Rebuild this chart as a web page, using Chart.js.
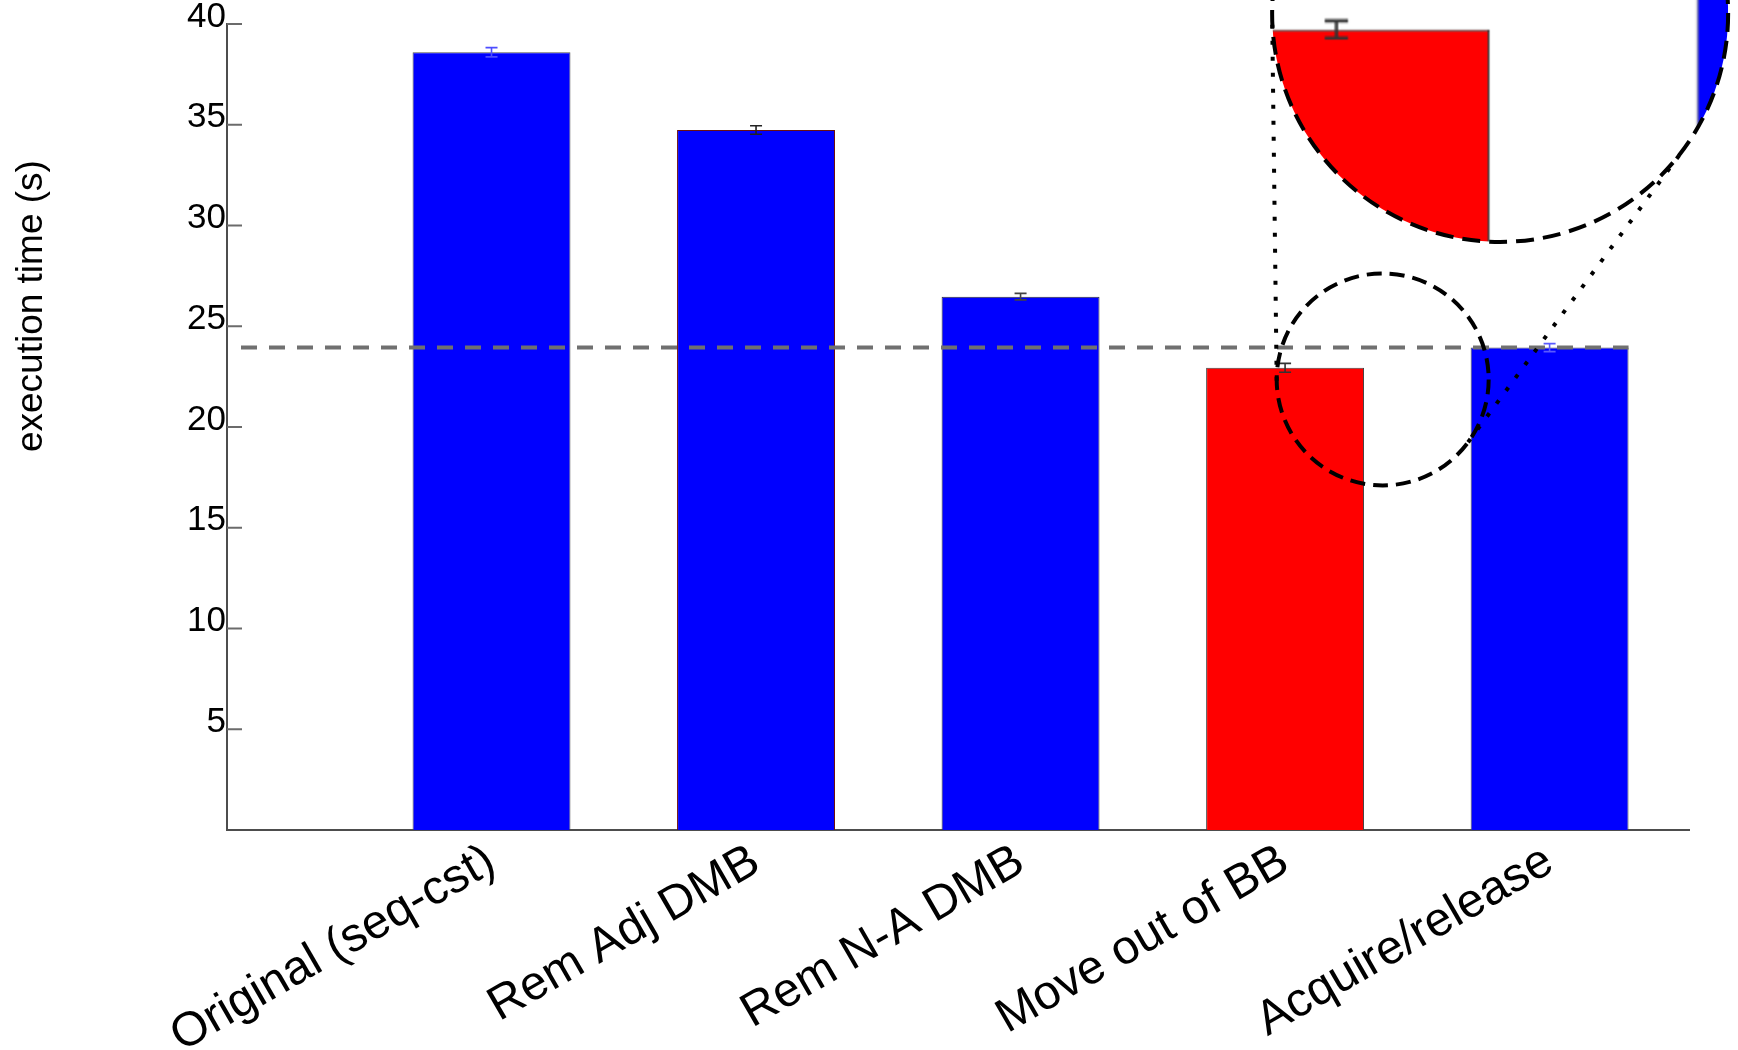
<!DOCTYPE html>
<html>
<head>
<meta charset="utf-8">
<script src="https://cdn.jsdelivr.net/npm/chart.js@4.4.1/dist/chart.umd.min.js"></script>
<style>
  html, body { margin: 0; padding: 0; background: #fff; overflow: hidden; }
  #wrap { position: relative; width: 1738px; height: 1050px; }
</style>
</head>
<body>
<div id="wrap"><canvas id="chart"></canvas></div>
<script>
// Execution time of each barrier-placement variant (seconds)
const categories = ['Original (seq-cst)', 'Rem Adj DMB', 'Rem N-A DMB', 'Move out of BB', 'Acquire/release'];
const times = [38.6, 34.74, 26.47, 22.94, 23.94];
const timeErrors = [0.23, 0.21, 0.16, 0.22, 0.2];
const referenceTime = 23.94;
const yTicks = [5, 10, 15, 20, 25, 30, 35, 40];
const yTitle = 'execution time (s)';

const FONT = "'Liberation Sans', Arial, Helvetica, sans-serif";
const BLUE = '#0000ff';
const RED = '#ff0000';

function outerTangents(c1, r1, c2, r2) {
  const dx = c2.x - c1.x, dy = c2.y - c1.y;
  const d = Math.hypot(dx, dy);
  const base = Math.atan2(dy, dx);
  const a = Math.acos((r2 - r1) / d);
  return [base + a, base - a].map(t => {
    const nx = Math.cos(t), ny = Math.sin(t);
    return [{ x: c1.x - r1 * nx, y: c1.y - r1 * ny }, { x: c2.x - r2 * nx, y: c2.y - r2 * ny }];
  });
}

const decorations = {
  id: 'decorations',
  beforeDraw(chart) {
    const { ctx, width, height } = chart;
    ctx.save();
    ctx.fillStyle = '#fff';
    ctx.fillRect(0, 0, width, height);
    ctx.restore();
  },
  afterDatasetsDraw(chart, args, opts) {
    const { ctx, chartArea, scales: { y } } = chart;
    const bars = chart.getDatasetMeta(0).data;
    ctx.save();
    // error bars
    bars.forEach((bar, i) => {
      const { x } = bar.getProps(['x'], true);
      const top = y.getPixelForValue(times[i] + timeErrors[i]);
      const bot = y.getPixelForValue(times[i] - timeErrors[i]);
      ctx.strokeStyle = opts.errorColors[i];
      ctx.lineWidth = 1.6;
      ctx.beginPath();
      ctx.moveTo(x, top); ctx.lineTo(x, bot);
      ctx.moveTo(x - 6, top); ctx.lineTo(x + 6, top);
      ctx.moveTo(x - 6, bot); ctx.lineTo(x + 6, bot);
      ctx.stroke();
    });
    // dashed reference level
    const last = bars[bars.length - 1].getProps(['x', 'width'], true);
    const ry = y.getPixelForValue(referenceTime);
    ctx.strokeStyle = '#707070';
    ctx.lineWidth = 4;
    ctx.setLineDash([16, 12]);
    ctx.beginPath();
    ctx.moveTo(chartArea.left + 14, ry);
    ctx.lineTo(last.x + last.width / 2, ry);
    ctx.stroke();
    ctx.setLineDash([]);
    // inward tick marks on the value axis
    ctx.strokeStyle = '#6b6b6b';
    ctx.lineWidth = 2;
    y.ticks.forEach(t => {
      const py = y.getPixelForValue(t.value);
      ctx.beginPath();
      ctx.moveTo(chartArea.left, py);
      ctx.lineTo(chartArea.left + 15, py);
      ctx.stroke();
    });
    ctx.restore();
  },
  afterDraw(chart, args, opts) {
    const { ctx, chartArea, scales: { x, y } } = chart;
    const lens = opts.lens;
    const dpr = chart.currentDevicePixelRatio || 1;
    const px = p => ({ x: x.getPixelForValue(p.x), y: y.getPixelForValue(p.y) });
    const src = px(lens.source);
    const view = px(lens.view);
    const target = px(lens.target);
    const R = lens.viewRadius, r = lens.targetRadius;
    const sr = R / lens.zoom;

    // magnified view
    ctx.save();
    ctx.beginPath();
    ctx.arc(view.x, view.y, R, 0, Math.PI * 2);
    ctx.clip();
    ctx.fillStyle = '#fff';
    ctx.fillRect(view.x - R, view.y - R, 2 * R, 2 * R);
    ctx.imageSmoothingEnabled = true;
    ctx.imageSmoothingQuality = 'high';
    ctx.drawImage(chart.canvas,
      (src.x - sr) * dpr, (src.y - sr) * dpr, 2 * sr * dpr, 2 * sr * dpr,
      view.x - R, view.y - R, 2 * R, 2 * R);
    ctx.restore();

    // lens outlines
    ctx.save();
    ctx.strokeStyle = '#000';
    ctx.lineWidth = 4;
    ctx.setLineDash([18, 9]);
    ctx.beginPath();
    ctx.arc(view.x, view.y, R, 0, Math.PI * 2);
    ctx.stroke();
    ctx.setLineDash([15, 8]);
    ctx.beginPath();
    ctx.arc(target.x, target.y, r, 0, Math.PI * 2);
    ctx.stroke();
    // dotted connectors
    ctx.setLineDash([4, 12]);
    ctx.lineWidth = 4;
    outerTangents(target, r, view, R).forEach(([a, b]) => {
      ctx.beginPath();
      ctx.moveTo(a.x, a.y);
      ctx.lineTo(b.x, b.y);
      ctx.stroke();
    });
    ctx.restore();

    // value-axis title
    ctx.save();
    ctx.translate(31.5, chartArea.top + 0.35 * (chartArea.bottom - chartArea.top));
    ctx.rotate(-Math.PI / 2);
    ctx.font = '37px ' + FONT;
    ctx.fillStyle = '#000';
    ctx.textAlign = 'center';
    ctx.textBaseline = 'middle';
    ctx.fillText(yTitle, 0, 0);
    ctx.restore();
  }
};

new Chart(document.getElementById('chart'), {
  type: 'bar',
  data: {
    datasets: [{
      data: times.map((v, i) => ({ x: i + 1, y: v })),
      backgroundColor: [BLUE, BLUE, BLUE, RED, BLUE],
      borderColor: ['#505050', '#6a1010', '#303030', '#404040', '#505050'],
      borderWidth: 1,
      categoryPercentage: 1,
      barPercentage: 0.597
    }]
  },
  options: {
    responsive: true,
    maintainAspectRatio: false,
    animation: false,
    events: [],
    layout: { padding: { top: 24, right: 49, left: 0, bottom: 0 } },
    plugins: {
      legend: { display: false },
      tooltip: { enabled: false },
      decorations: {
        errorColors: ['#4d4dff', '#222222', '#444444', '#333333', '#5a5aff'],
        lens: {
          source: { x: 4.319, y: 23.335 },
          zoom: 1.94,
          view: { x: 4.813, y: 40.5 },
          viewRadius: 228,
          target: { x: 4.369, y: 22.36 },
          targetRadius: 106
        }
      }
    },
    scales: {
      x: {
        type: 'linear',
        min: 0,
        max: 5.527,
        offset: false,
        grid: { display: false, drawTicks: false, offset: false },
        border: { display: true, color: '#4d4d4d', width: 2 },
        afterBuildTicks: s => { s.ticks = categories.map((_, i) => ({ value: i + 1 })); },
        afterFit: s => { s.height = 220; },
        ticks: {
          autoSkip: false,
          minRotation: 30,
          maxRotation: 30,
          padding: 3,
          color: '#000',
          font: { family: FONT, size: 48 },
          callback: v => categories[v - 1] ?? ''
        }
      },
      y: {
        min: 0,
        max: 40,
        grid: { display: false, drawTicks: false },
        border: { display: true, color: '#4d4d4d', width: 2 },
        afterBuildTicks: s => { s.ticks = yTicks.map(v => ({ value: v })); },
        afterFit: s => { s.width = 227; },
        ticks: {
          padding: 1,
          labelOffset: -7,
          color: '#000',
          font: { family: FONT, size: 35 }
        }
      }
    }
  },
  plugins: [decorations]
});
</script>
</body>
</html>
